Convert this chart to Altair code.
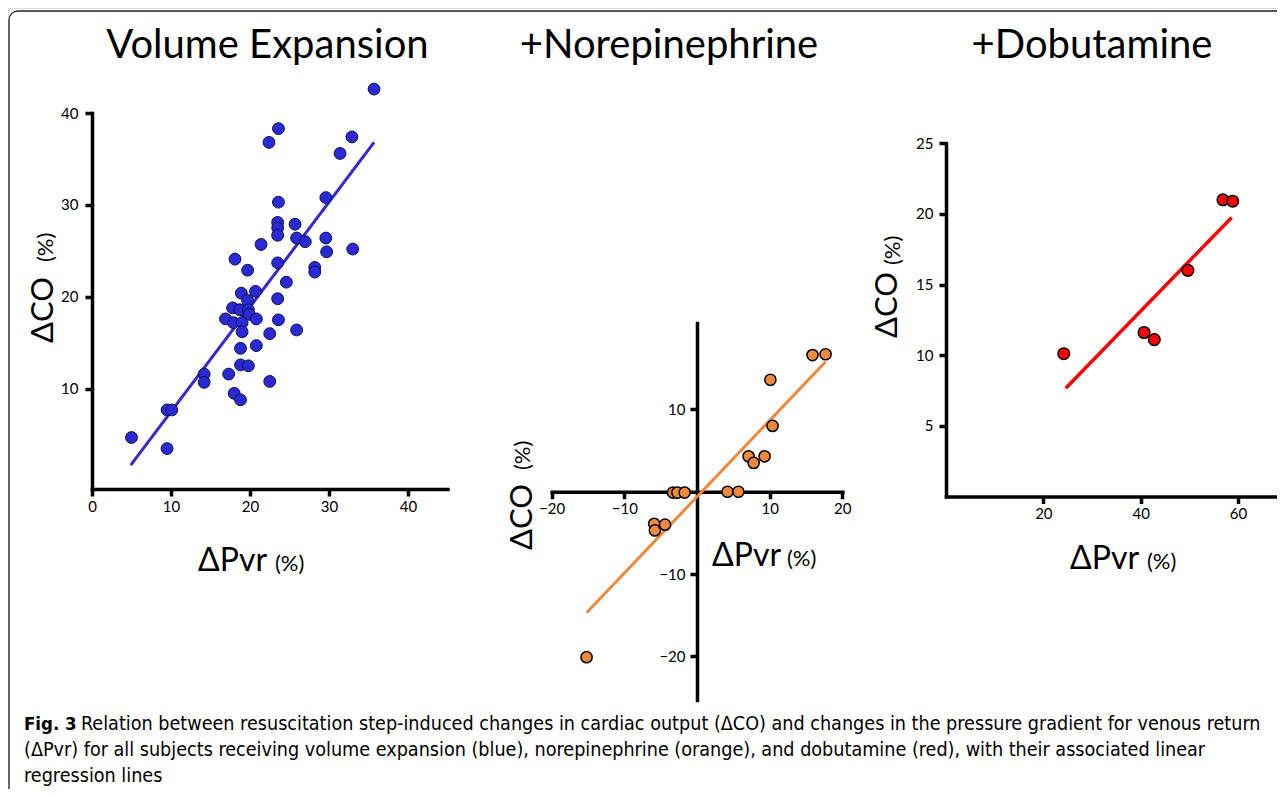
import altair as alt
import pandas as pd

W, H = 1269, 781  # chart canvas (page minus 8px margins)

# ---------------- data ----------------
# Volume expansion
ve_dpvr = [35.7, 23.6, 22.4, 32.9, 31.4, 23.6, 29.6, 23.5, 23.5, 23.5,
           25.7, 25.9, 27.0, 29.6, 29.7, 33.0, 21.4, 18.1, 19.7, 23.5,
           28.2, 28.2, 24.6, 18.9, 20.7, 19.7, 23.5, 17.8, 18.7, 19.8,
           19.9, 16.9, 17.9, 19.0, 20.8, 23.6, 19.0, 25.9, 22.5, 18.8,
           20.8, 18.8, 19.8, 17.3, 14.2, 14.2, 22.5, 18.0, 18.8, 9.5,
           10.1, 5.0, 9.5]
ve_dco = [42.6, 38.3, 36.8, 37.4, 35.6, 30.3, 30.8, 28.1, 27.5, 26.7,
          27.9, 26.4, 26.0, 26.4, 24.9, 25.2, 25.7, 24.1, 22.9, 23.7,
          23.2, 22.7, 21.6, 20.4, 20.6, 19.6, 19.8, 18.8, 18.6, 18.6,
          18.1, 17.6, 17.2, 17.2, 17.6, 17.5, 16.2, 16.4, 16.0, 14.4,
          14.7, 12.6, 12.5, 11.6, 11.6, 10.7, 10.8, 9.5, 8.8, 7.7,
          7.7, 4.7, 3.5]
ve_fit_x = [4.9, 35.7]
ve_fit_y = [1.7, 36.8]

# Norepinephrine
ne_dpvr = [15.9, 17.7, 10.1, 10.4, 7.1, 7.8, 9.3, 4.2, 5.7, -3.3, -2.7, -1.7,
           -5.9, -4.4, -5.8, -15.2]
ne_dco = [16.6, 16.7, 13.6, 8.0, 4.3, 3.5, 4.3, 0.0, 0.0, -0.1, -0.1, -0.1,
          -3.9, -4.0, -4.7, -20.1]
ne_fit_x = [-15.2, 17.7]
ne_fit_y = [-14.7, 15.8]

# Dobutamine
db_dpvr = [24.2, 40.7, 42.8, 49.7, 56.9, 58.9]
db_dco = [10.1, 11.6, 11.1, 16.0, 21.0, 20.9]
db_fit_x = [24.6, 58.7]
db_fit_y = [7.65, 19.75]

panel_titles = ["Volume Expansion", "+Norepinephrine", "+Dobutamine"]
caption_bold = "Fig. 3"
caption_lines = [
    "Relation between resuscitation step-induced changes in cardiac output (\u0394CO) and changes in the pressure gradient for venous return",
    "(\u0394Pvr) for all subjects receiving volume expansion (blue), norepinephrine (orange), and dobutamine (red), with their associated linear",
    "regression lines",
]

FONT = "Lato"
CAP_FONT = "Liberation Sans Narrow, DejaVu Sans Condensed, Open Sans"

one = pd.DataFrame({"k": [0]})


def axis_common(**kw):
    return alt.Axis(domainColor="black", domainWidth=3.5, domainCap="square",
                    tickColor="black", tickWidth=3.5, tickSize=7,
                    labelFont=FONT, labelFontSize=15, labelColor="black",
                    labelFlush=False, labelOverlap=False, grid=False,
                    title=None, **kw)


def panel(xs, ys, fx, fy, xdom, xrange, ydom, yrange, xvals, yvals,
          xaxis_y, yaxis_x, ypad, fill, stroke, swidth, size, lcolor, lwidth):
    pts = pd.DataFrame({"dpvr": xs, "dco": ys})
    fit = pd.DataFrame({"dpvr": fx, "dco": fy})
    X = alt.X("dpvr:Q",
              scale=alt.Scale(domain=xdom, range=xrange, nice=False, zero=False),
              axis=axis_common(orient="bottom", offset=xaxis_y - H, values=xvals,
                               labelPadding=3))
    Y = alt.Y("dco:Q",
              scale=alt.Scale(domain=ydom, range=yrange, nice=False, zero=False),
              axis=axis_common(orient="left", offset=-yaxis_x, values=yvals,
                               labelPadding=ypad))
    line = alt.Chart(fit).mark_line(color=lcolor, strokeWidth=lwidth).encode(x=X, y=Y)
    dots = alt.Chart(pts).mark_point(filled=True, fill=fill, stroke=stroke,
                                     strokeWidth=swidth, size=size, opacity=1,
                                     shape="circle").encode(x=X, y=Y)
    return alt.layer(line, dots)


p1 = panel(ve_dpvr, ve_dco, ve_fit_x, ve_fit_y,
           [0, 45], [84, 439.5], [-0.9, 40], [481, 105],
           [0, 10, 20, 30, 40], [10, 20, 30, 40], 481, 84, 7,
           "#2a2ad4", "#0d0d55", 1, 140, "#3528d0", 3)
p2 = panel(ne_dpvr, ne_dco, ne_fit_x, ne_fit_y,
           [-20, 20], [543.7, 834.3], [-25.3, 20.5], [692, 315],
           [-20, -10, 10, 20], [-20, -10, 10], 483.7, 689, 5,
           "#ee8a3c", "black", 1.5, 125, "#f0883a", 3)
p3 = panel(db_dpvr, db_dco, db_fit_x, db_fit_y,
           [0, 67.6], [938, 1267], [0, 25], [488.3, 135.3],
           [20, 40, 60], [5, 10, 15, 20, 25], 488.5, 938, 6,
           "#ff0000", "black", 1.5, 135, "#ff0000", 3.5)


def txt(s, x, y, size, align="left", angle=0, font=FONT, weight="normal"):
    return alt.Chart(one).mark_text(
        text=s, font=font, fontSize=size, fontWeight=weight, align=align,
        baseline="alphabetic", angle=angle, color="black"
    ).encode(x=alt.value(x), y=alt.value(y))


texts = []
# panel titles (page coords minus 8)
texts.append(txt(panel_titles[0], 259.5, 50, 40, "center"))
texts.append(txt(panel_titles[1], 661, 50, 40, "center"))
texts.append(txt(panel_titles[2], 1084, 50, 40, "center"))

# x-axis titles
for (xl, xr, yb) in [(190, 267, 563), (704, 779, 558), (1062, 1139, 561)]:
    texts.append(txt("\u0394Pvr", xl, yb, 32))
    texts.append(txt("(%)", xr, yb, 22))

# y-axis titles (rotated)
for (xb, yd, yp, xp) in [(45, 335, 254, 45), (524, 542, 462, 522), (889, 330, 257, 892)]:
    texts.append(txt("\u0394CO", xb, yd, 31, angle=270))
    texts.append(txt("(%)", xp, yp, 22, angle=270))

# caption
CS = 19.6
texts.append(txt(caption_bold, 16, 722, 18.5, font=CAP_FONT, weight="bold"))
texts.append(txt(caption_lines[0], 73, 722, CS, font=CAP_FONT))
texts.append(txt(caption_lines[1], 16, 748, CS, font=CAP_FONT))
texts.append(txt(caption_lines[2], 16, 774, CS, font=CAP_FONT))

frame = alt.Chart(one).mark_rect(fill=None, stroke="#222222", strokeWidth=1.3,
                                 cornerRadius=9).encode(
    x=alt.value(1), x2=alt.value(W + 30), y=alt.value(3), y2=alt.value(H + 30))

chart = alt.layer(frame, p1, p2, p3, *texts).resolve_scale(
    x="independent", y="independent"
).properties(
    width=W, height=H, padding=0,
    autosize=alt.AutoSizeParams(type="none")
).configure_view(stroke=None).configure(background="white")

chart.save("out.html", embed_options={"renderer": "svg", "actions": False})
